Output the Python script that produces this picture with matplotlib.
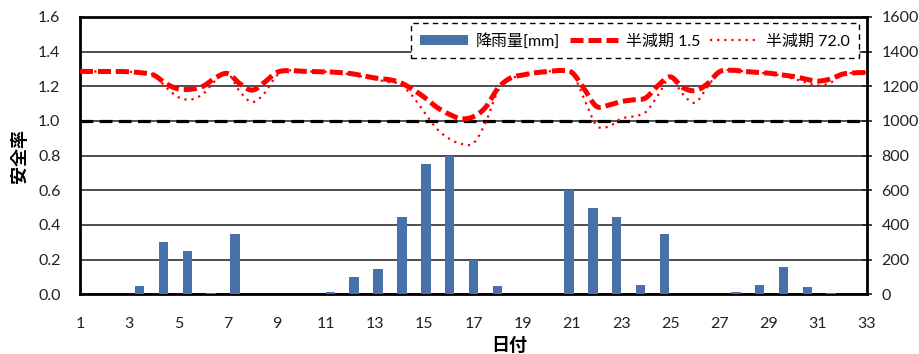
import numpy as np
import matplotlib
matplotlib.use('Agg')
import matplotlib.pyplot as plt
from matplotlib.patches import Patch
from matplotlib.lines import Line2D

plt.rcParams['font.family'] = ['Lato', 'Noto Sans CJK JP', 'DejaVu Sans']

# 日付 1..33 の降雨量 [mm]
days = np.arange(1, 34)
rain = [0, 0, 50, 300, 250, 10, 350, 0, 0, 0, 15, 100, 145, 445, 750, 800, 200,
        50, 0, 0, 600, 500, 445, 55, 350, 0, 0, 15, 55, 160, 40, 8, 0]

# 安全率 (半日刻みで読み取り)
t = np.arange(1, 33.5, 0.5)
fs_15 = [1.286, 1.286, 1.286, 1.286, 1.284, 1.278, 1.265, 1.215, 1.185, 1.183,
         1.200, 1.248, 1.274, 1.215, 1.178, 1.223, 1.280, 1.291, 1.287, 1.285,
         1.284, 1.280, 1.274, 1.261, 1.248, 1.240, 1.223, 1.185, 1.137, 1.080,
         1.040, 1.013, 1.025, 1.080, 1.190, 1.248, 1.265, 1.278, 1.285, 1.291,
         1.280, 1.185, 1.084, 1.092, 1.112, 1.122, 1.133, 1.204, 1.255, 1.194,
         1.175, 1.213, 1.284, 1.293, 1.286, 1.281, 1.276, 1.267, 1.257, 1.242,
         1.230, 1.242, 1.270, 1.278, 1.280]
fs_72 = [1.286, 1.286, 1.286, 1.286, 1.284, 1.278, 1.265, 1.194, 1.137, 1.124,
         1.156, 1.232, 1.274, 1.170, 1.109, 1.160, 1.262, 1.291, 1.287, 1.285,
         1.284, 1.278, 1.270, 1.256, 1.240, 1.226, 1.213, 1.147, 1.051, 0.956,
         0.899, 0.868, 0.872, 0.994, 1.175, 1.242, 1.265, 1.278, 1.285, 1.291,
         1.280, 1.128, 0.975, 0.968, 1.013, 1.027, 1.051, 1.147, 1.250, 1.156,
         1.105, 1.194, 1.284, 1.293, 1.286, 1.280, 1.274, 1.262, 1.245, 1.223,
         1.205, 1.219, 1.268, 1.278, 1.280]


def smooth(x, y, n=8):
    """Catmull-Rom で滑らかな線にする (Excel の平滑線の代わり)"""
    x = np.asarray(x, float)
    y = np.asarray(y, float)
    px = np.concatenate([[2 * x[0] - x[1]], x, [2 * x[-1] - x[-2]]])
    py = np.concatenate([[2 * y[0] - y[1]], y, [2 * y[-1] - y[-2]]])
    s = np.linspace(0, 1, n, endpoint=False)
    ox, oy = [], []
    for i in range(1, len(px) - 2):
        for p, o in ((px, ox), (py, oy)):
            p0, p1, p2, p3 = p[i - 1], p[i], p[i + 1], p[i + 2]
            o.extend(0.5 * ((2 * p1) + (-p0 + p2) * s
                            + (2 * p0 - 5 * p1 + 4 * p2 - p3) * s ** 2
                            + (-p0 + 3 * p1 - 3 * p2 + p3) * s ** 3))
    ox.append(x[-1])
    oy.append(y[-1])
    return np.array(ox), np.array(oy)


fig = plt.figure(figsize=(9.2, 3.54), dpi=100)
rect = [80 / 920, 59.7 / 354, 787 / 920, 277.3 / 354]

# 降雨量 (右軸)
axb = fig.add_axes(rect)
bar_color = '#4672A9'
axb.bar(days - 0.5, rain, width=0.4, color=bar_color, zorder=3)
axb.set_xlim(0, 33)
axb.set_ylim(0, 1600)
axb.set_yticks(np.arange(0, 1601, 200))
axb.yaxis.tick_right()
axb.tick_params(axis='y', direction='inout', length=7, width=1.2, pad=7,
                labelsize=11.5, colors='#222222')
axb.set_xticks([])
axb.grid(axis='y', color='#404040', lw=1.3, zorder=0)
axb.set_axisbelow(True)
for sp in axb.spines.values():
    sp.set_linewidth(2)
    sp.set_color('black')

# 安全率 (左軸)
ax = fig.add_axes(rect)
ax.patch.set_visible(False)
for sp in ax.spines.values():
    sp.set_visible(False)
ax.set_xlim(1, 33)
ax.set_ylim(0, 1.6)
ax.set_yticks(np.arange(0, 1.61, 0.2))
ax.set_yticklabels([f'{v:.1f}' for v in np.arange(0, 1.61, 0.2)])
ax.set_xticks(np.arange(1, 34, 2))
ax.tick_params(axis='y', length=0, pad=14, labelsize=11.5, colors='#222222')
ax.tick_params(axis='x', length=0, pad=16, labelsize=11.5, colors='#222222')

ax.axhline(1.0, color='black', lw=2.3, linestyle=(0, (4, 2)), zorder=2)

x1, y1 = smooth(t, fs_15)
x2, y2 = smooth(t, fs_72)
ax.plot(x2, y2, color='#FF0000', lw=1.6, linestyle=(0, (1, 2.2)), zorder=3)
ax.plot(x1, y1, color='#FF0000', lw=3.6, linestyle=(0, (2.6, 1.0)), zorder=4)

ax.set_ylabel('安全率', fontsize=13, fontweight='bold')
ax.yaxis.set_label_coords(-0.066, 0.5)
ax.set_xlabel('日付', fontsize=13, fontweight='bold', va='top')
ax.xaxis.set_label_coords(0.545, -0.155)

# 凡例
handles = [
    Patch(facecolor=bar_color, edgecolor='none'),
    Line2D([], [], color='#FF0000', lw=3.6, linestyle=(0, (2.6, 1.0))),
    Line2D([], [], color='#FF0000', lw=1.6, linestyle=(0, (1, 2.2))),
]
labels = ['降雨量[mm]', '半減期 1.5', '半減期 72.0']
leg = ax.legend(handles, labels, ncol=3, loc='upper right',
                bbox_to_anchor=(0.99, 0.978), borderaxespad=0,
                fontsize=11.5, handlelength=3.0, handleheight=0.6,
                columnspacing=0.6, handletextpad=0.5, borderpad=0.6,
                fancybox=False, framealpha=1, edgecolor='black')
leg.get_frame().set_linestyle((0, (4, 3)))
leg.get_frame().set_linewidth(1.0)

plt.savefig('out.png', dpi=100)
